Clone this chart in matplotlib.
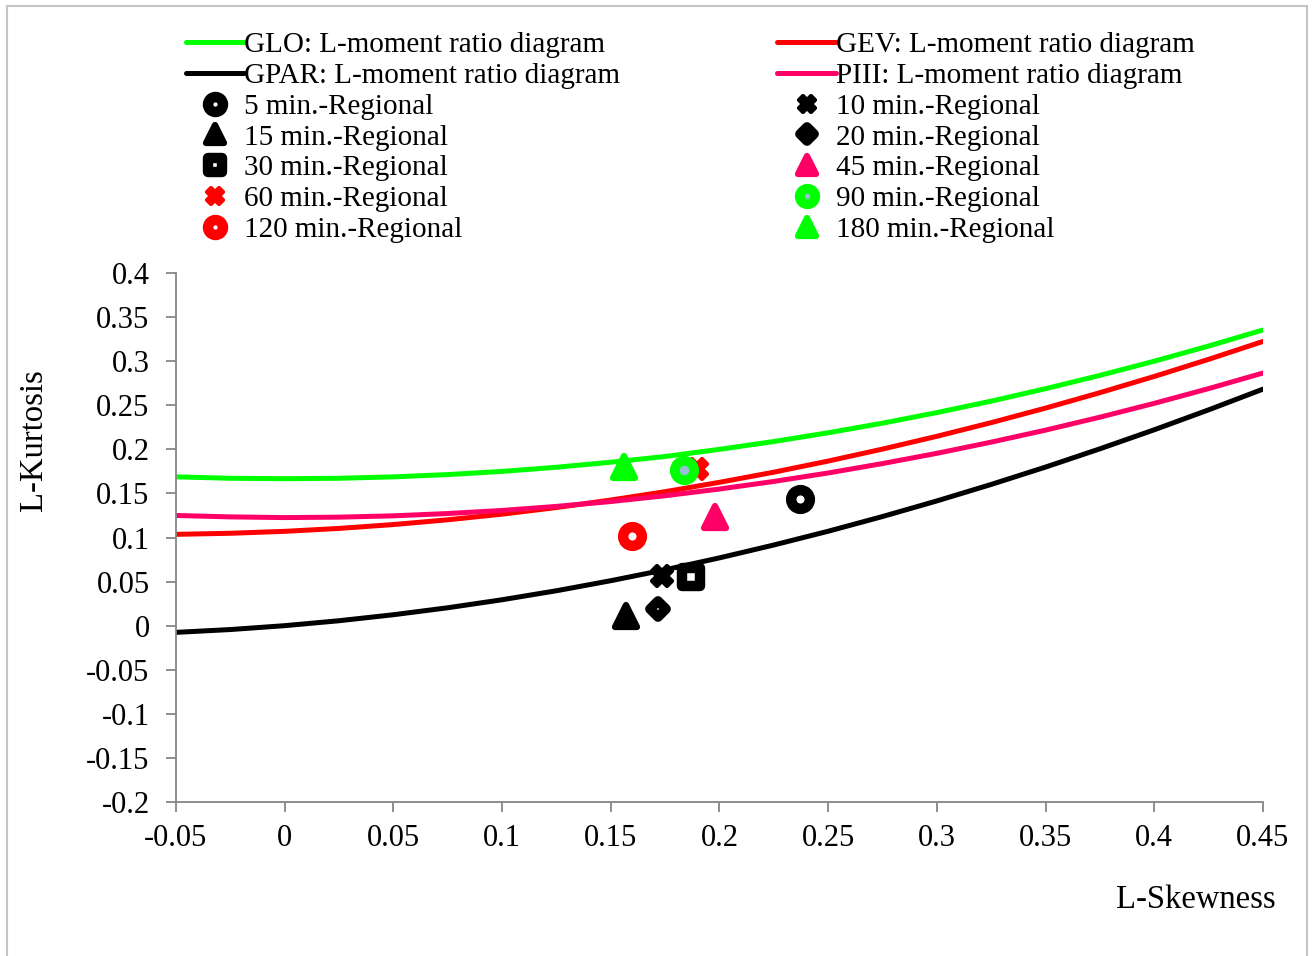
import matplotlib
matplotlib.use("Agg")
import matplotlib.pyplot as plt
from matplotlib.markers import MarkerStyle
from matplotlib.patches import Rectangle

plt.rcParams['font.family'] = ['Liberation Serif', 'DejaVu Serif']

# L-skewness grid used for the theoretical curves
tau3 = [-0.05, -0.025, 0.0, 0.025, 0.05, 0.075, 0.1, 0.125, 0.15, 0.175, 0.2,
        0.225, 0.25, 0.275, 0.3, 0.325, 0.35, 0.375, 0.4, 0.425, 0.45]
glo = [0.1688, 0.1672, 0.1667, 0.1672, 0.1688, 0.1714, 0.1750, 0.1797, 0.1854, 0.1919, 0.2000,
       0.2089, 0.2188, 0.2297, 0.2417, 0.2547, 0.2688, 0.2839, 0.3000, 0.3172, 0.3354]
gev = [0.1036, 0.1048, 0.1070, 0.1103, 0.1147, 0.1201, 0.1265, 0.1340, 0.1425, 0.1520, 0.1626,
       0.1741, 0.1867, 0.2003, 0.2148, 0.2303, 0.2468, 0.2643, 0.2827, 0.3021, 0.3224]
gpar = [-0.0076, -0.0044, 0.0, 0.0056, 0.0124, 0.0203, 0.0294, 0.0396, 0.0510, 0.0634, 0.0769,
        0.0915, 0.1071, 0.1238, 0.1415, 0.1602, 0.1799, 0.2006, 0.2222, 0.2448, 0.2683]
piii = [0.1250, 0.1234, 0.1226, 0.1231, 0.1246, 0.1272, 0.1307, 0.1353, 0.1408, 0.1474, 0.1550,
        0.1636, 0.1732, 0.1839, 0.1955, 0.2082, 0.2218, 0.2365, 0.2522, 0.2689, 0.2866]

# regional L-moment ratios per duration
durations = ['5 min.-Regional', '10 min.-Regional', '15 min.-Regional', '20 min.-Regional',
             '30 min.-Regional', '45 min.-Regional', '60 min.-Regional', '90 min.-Regional',
             '120 min.-Regional', '180 min.-Regional']
reg_skew = [0.237, 0.1735, 0.157, 0.1717, 0.187, 0.198, 0.1895, 0.1837, 0.160, 0.156]
reg_kurt = [0.1437, 0.0564, 0.011, 0.019, 0.055, 0.123, 0.1776, 0.1766, 0.1017, 0.180]

GREEN = '#00FF00'
RED = '#FF0000'
PINK = '#FF0066'
BLACK = '#000000'

fig = plt.figure(figsize=(13.16, 9.56), dpi=100)
# chart-area border (bottom edge runs off the picture)
fig.patches.append(Rectangle((7 / 1316, -0.01), 1300 / 1316, 1.0037, transform=fig.transFigure,
                             fill=False, edgecolor='#C4C4C4', linewidth=1.5))
ax = fig.add_axes([0.1337, 0.1611, 0.826, 0.5533])

lw = 3.6
l_glo, = ax.plot(tau3, glo, color=GREEN, lw=lw, solid_capstyle='round', zorder=2)
l_gev, = ax.plot(tau3, gev, color=RED, lw=lw, solid_capstyle='round', zorder=2)
l_gpar, = ax.plot(tau3, gpar, color=BLACK, lw=lw, solid_capstyle='round', zorder=2)
l_piii, = ax.plot(tau3, piii, color=PINK, lw=lw, solid_capstyle='round', zorder=2)


def mk(shape):
    return MarkerStyle(shape, joinstyle='round')


# marker style per duration: (shape, face, edge, size, edge width)
styles = [
    ('o', 'white', BLACK, 13.5, 7.5),
    ('X', BLACK, BLACK, 14, 3),
    ('^', BLACK, BLACK, 16, 4.5),
    ('D', 'white', BLACK, 8.5, 7),
    ('s', 'white', BLACK, 13, 7.5),
    ('^', PINK, PINK, 16, 4.5),
    ('X', RED, RED, 14, 3),
    ('o', '#95BFD5', GREEN, 14, 7),
    ('o', 'white', RED, 13.5, 7.5),
    ('^', GREEN, GREEN, 16, 4.5),
]

pts = []
for i, name in enumerate(durations):
    shape, face, edge, ms, mew = styles[i]
    p, = ax.plot([reg_skew[i]], [reg_kurt[i]], linestyle='none', marker=mk(shape),
                 markerfacecolor=face, markeredgecolor=edge, markersize=ms,
                 markeredgewidth=mew, zorder=3 + i * 0.1)
    pts.append(p)

ax.set_xlim(-0.05, 0.45)
ax.set_ylim(-0.2, 0.4)
xt = [-0.05, 0, 0.05, 0.1, 0.15, 0.2, 0.25, 0.3, 0.35, 0.4, 0.45]
yt = [-0.2, -0.15, -0.1, -0.05, 0, 0.05, 0.1, 0.15, 0.2, 0.25, 0.3, 0.35, 0.4]
ax.set_xticks(xt)
ax.set_xticklabels(['-0.05', '0', '0.05', '0.1', '0.15', '0.2', '0.25', '0.3', '0.35', '0.4', '0.45'])
ax.set_yticks(yt)
ax.set_yticklabels(['-0.2', '-0.15', '-0.1', '-0.05', '0', '0.05', '0.1', '0.15', '0.2', '0.25',
                    '0.3', '0.35', '0.4'])

for s in ['top', 'right']:
    ax.spines[s].set_visible(False)
for s in ['left', 'bottom']:
    ax.spines[s].set_color('#868686')
    ax.spines[s].set_linewidth(1.3)
ax.tick_params(direction='out', length=7, width=1.3, color='#868686', labelsize=22)
ax.tick_params(axis='x', pad=9)
ax.tick_params(axis='y', pad=12)

fig.text(0.026, 0.54, 'L-Kurtosis', rotation=90, ha='center', va='center', fontsize=23.5)
fig.text(0.969, 0.059, 'L-Skewness', ha='right', va='center', fontsize=23.5)

handles = [l_glo, l_gpar, pts[0], pts[2], pts[4], pts[6], pts[8],
           l_gev, l_piii, pts[1], pts[3], pts[5], pts[7], pts[9]]
labels = ['GLO: L-moment ratio diagram', 'GPAR: L-moment ratio diagram',
          durations[0], durations[2], durations[4], durations[6], durations[8],
          'GEV: L-moment ratio diagram', 'PIII: L-moment ratio diagram',
          durations[1], durations[3], durations[5], durations[7], durations[9]]
fig.legend(handles, labels, ncol=2, loc='upper left', bbox_to_anchor=(0.130, 0.982),
           frameon=False, fontsize=21, handlelength=2.0, handletextpad=0.0,
           labelspacing=0.15, columnspacing=5.4, markerscale=0.8, borderpad=0)

fig.savefig('out.png', dpi=100)
